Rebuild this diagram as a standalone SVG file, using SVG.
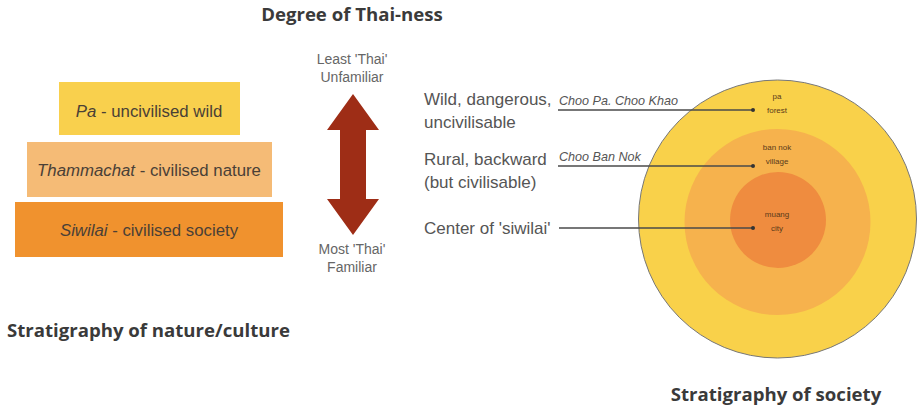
<svg xmlns="http://www.w3.org/2000/svg" width="920" height="411" viewBox="0 0 920 411">
<style>
.title{font-family:"Open Sans","Liberation Sans",sans-serif;font-weight:700;font-size:18.6px;fill:#3a3a3a}
.lbl{font-family:"Liberation Sans",Arial,sans-serif;font-size:17px;fill:#555}
.box{font-family:"Liberation Sans",Arial,sans-serif;font-size:16.8px;fill:#4a4036}
.small{font-family:"Liberation Sans",Arial,sans-serif;font-size:14px;fill:#666}
.it{font-family:"Liberation Sans",Arial,sans-serif;font-size:12.6px;font-style:italic;fill:#555}
.ring{font-family:"Liberation Sans",Arial,sans-serif;font-size:8px;fill:#5a3a1a}
.conn{stroke:#4a4a4a;stroke-width:1.5;fill:none}
</style>
<rect width="920" height="411" fill="#ffffff"/>
<text class="title" x="352" y="21" text-anchor="middle">Degree of Thai-ness</text>
<text class="title" x="7" y="337">Stratigraphy of nature/culture</text>
<text class="title" x="776" y="401" text-anchor="middle">Stratigraphy of society</text>

<g id="box-pa">
<rect x="59" y="82" width="181" height="53" fill="#F9D04D"/>
<text class="box" x="149" y="117" text-anchor="middle"><tspan font-style="italic">Pa</tspan> - uncivilised wild</text>
</g>
<g id="box-thammachat">
<rect x="27" y="142" width="245" height="55" fill="#F5BB76"/>
<text class="box" x="149" y="176" text-anchor="middle"><tspan font-style="italic">Thammachat</tspan> - civilised nature</text>
</g>
<g id="box-siwilai">
<rect x="15" y="202" width="268" height="55" fill="#F0922E"/>
<text class="box" x="149" y="236" text-anchor="middle"><tspan font-style="italic">Siwilai</tspan> - civilised society</text>
</g>

<g id="arrow">
<text class="small" x="352" y="64" text-anchor="middle">Least 'Thai'</text>
<text class="small" x="352" y="82" text-anchor="middle">Unfamiliar</text>
<polygon points="353,94 379,130 366,130 366,199 379,199 353,235 327,199 340,199 340,130 327,130" fill="#9E2D16"/>
<text class="small" x="352" y="254" text-anchor="middle">Most 'Thai'</text>
<text class="small" x="352" y="272" text-anchor="middle">Familiar</text>
</g>

<g id="labels">
<text class="lbl" x="424" y="105">Wild, dangerous,</text>
<text class="lbl" x="424" y="128">uncivilisable</text>
<text class="lbl" x="424" y="165">Rural, backward</text>
<text class="lbl" x="424" y="188">(but civilisable)</text>
<text class="lbl" x="424" y="234">Center of 'siwilai'</text>
</g>

<g id="rings">
<circle cx="777.5" cy="219" r="139" fill="#F9D14A" stroke="#777" stroke-width="1"/>
<circle cx="777.5" cy="222" r="93" fill="#F6B24D"/>
<circle cx="778" cy="220" r="48" fill="#EF8C3F"/>
<text class="ring" x="777" y="99" text-anchor="middle">pa</text>
<text class="ring" x="777" y="113" text-anchor="middle">forest</text>
<text class="ring" x="777" y="150" text-anchor="middle">ban nok</text>
<text class="ring" x="777" y="164" text-anchor="middle">village</text>
<text class="ring" x="777" y="217" text-anchor="middle">muang</text>
<text class="ring" x="777" y="231" text-anchor="middle">city</text>
</g>

<g id="connectors">
<text class="it" x="559" y="105">Choo Pa. Choo Khao</text>
<text class="it" x="559" y="161">Choo Ban Nok</text>
<line class="conn" x1="558" y1="110" x2="753" y2="110"/>
<line class="conn" x1="558" y1="166" x2="753" y2="166"/>
<line class="conn" x1="559" y1="228" x2="753" y2="228"/>
<circle cx="753" cy="110" r="2" fill="#333"/>
<circle cx="753" cy="166" r="2" fill="#333"/>
<circle cx="753" cy="228" r="2" fill="#333"/>
</g>
</svg>
